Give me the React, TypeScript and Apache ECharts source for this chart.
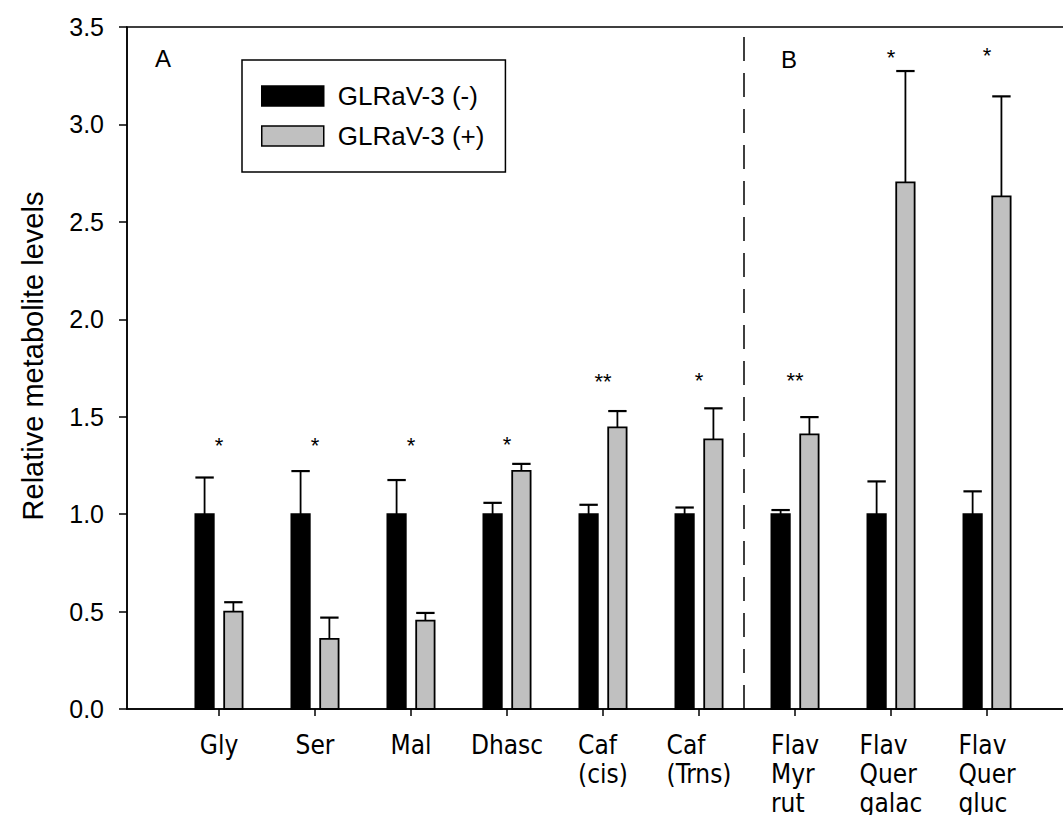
import React, { useEffect, useRef } from 'react';
import * as echarts from 'echarts';

// ---- data ----
const categories: string[] = [
  'Gly',
  'Ser',
  'Mal',
  'Dhasc',
  'Caf\n(cis)',
  'Caf\n(Trns)',
  'Flav\nMyr\nrut',
  'Flav\nQuer\ngalac',
  'Flav\nQuer\ngluc',
];
const seriesNames: string[] = ['GLRaV-3 (-)', 'GLRaV-3 (+)'];
const negMean: number[] = [1, 1, 1, 1, 1, 1, 1, 1, 1];
const negErr: number[] = [0.188, 0.221, 0.175, 0.058, 0.048, 0.034, 0.021, 0.168, 0.117];
const posMean: number[] = [0.5, 0.36, 0.454, 1.222, 1.445, 1.384, 1.409, 2.703, 2.631];
const posErr: number[] = [0.048, 0.109, 0.039, 0.036, 0.084, 0.159, 0.089, 0.571, 0.513];
const sigMarks: string[] = ['*', '*', '*', '*', '**', '*', '**', '*', '*'];
const sigY: number[] = [1.35, 1.35, 1.35, 1.355, 1.68, 1.685, 1.685, 3.345, 3.355];
const yTickMin = 0;
const yTickMax = 3.5;
const yTickStep = 0.5;
const groupDivider = 5.47;
const panelLabels: string[] = ['A', 'B'];

const FONT = '"Liberation Sans", Arial, Helvetica, sans-serif';
const NARROW = '"Liberation Sans Narrow", "Arial Narrow", "DejaVu Sans Condensed", "Liberation Sans", Arial, sans-serif';

const makeBarSeries = (name: string, means: number[], errs: number[], fill: string, side: number) => ({
  type: 'custom',
  name,
  dimensions: ['x', 'y', 'err'],
  encode: { x: 0, y: 1 },
  data: means.map((m, i) => [i, m, errs[i]]),
  itemStyle: { color: fill, borderColor: '#000', borderWidth: 1.5 },
  renderItem: (_params: any, api: any) => {
    const i = api.value(0);
    const m = api.value(1);
    const e = api.value(2);
    const base = api.coord([i, 0]);
    const top = api.coord([i, m]);
    const errTop = api.coord([i, m + e]);
    const cx = base[0] + side * 14.4;
    const hw = 9.2;
    return {
      type: 'group',
      children: [
        {
          type: 'line',
          shape: { x1: cx, y1: top[1], x2: cx, y2: errTop[1] },
          style: { stroke: '#000', lineWidth: 1.8 },
        },
        {
          type: 'line',
          shape: { x1: cx - hw, y1: errTop[1], x2: cx + hw, y2: errTop[1] },
          style: { stroke: '#000', lineWidth: 2.2 },
        },
        {
          type: 'rect',
          shape: { x: cx - hw, y: top[1], width: hw * 2, height: base[1] - top[1] },
          style: { fill, stroke: '#000', lineWidth: 1.8 },
        },
      ],
    };
  },
});

export default function App() {
  const ref = useRef<HTMLDivElement>(null);

  useEffect(() => {
    if (!ref.current) return;
    const chart = echarts.init(ref.current, undefined, { renderer: 'svg' });
    const idx = categories.map((_, i) => i);

    const option: any = {
      animation: false,
      backgroundColor: '#fff',
      grid: {
        left: 127,
        top: 27,
        right: 21,
        bottom: 106,
        containLabel: false,
        outerBoundsMode: 'none',
        show: true,
        borderColor: '#000',
        borderWidth: 1.5,
        backgroundColor: 'transparent',
      },
      legend: {
        orient: 'vertical',
        left: 242,
        top: 60,
        padding: [23, 21, 23, 19],
        itemWidth: 62,
        itemHeight: 20,
        itemGap: 14,
        borderColor: '#000',
        borderWidth: 1.5,
        selectedMode: false,
        textStyle: { fontSize: 26, color: '#000', fontFamily: FONT, padding: [0, 0, 0, 9], lineHeight: 20 },
        data: [
          { name: seriesNames[0], icon: 'rect', itemStyle: { color: '#000', borderColor: '#000', borderWidth: 1.5 } },
          { name: seriesNames[1], icon: 'rect', itemStyle: { color: '#c0c0c0', borderColor: '#000', borderWidth: 1.5 } },
        ],
      },
      xAxis: {
        type: 'value',
        min: -0.958,
        max: 8.958,
        splitLine: { show: false },
        axisLine: { show: true, onZero: false, lineStyle: { color: '#000', width: 1.5 } },
        axisTick: { show: true, customValues: idx, length: 7, lineStyle: { color: '#000', width: 1.5 } },
        axisLabel: {
          customValues: idx,
          margin: 21,
          formatter: (v: number) =>
            categories[Math.round(v)]
              .split('\n')
              .map((s) => `{l|${s}}`)
              .join('\n'),
          rich: {
            l: { fontSize: 26, fontFamily: NARROW, color: '#000', lineHeight: 29, align: 'left' },
          },
        },
      },
      yAxis: {
        type: 'value',
        min: yTickMin,
        max: yTickMax,
        interval: yTickStep,
        name: 'Relative metabolite levels',
        nameLocation: 'middle',
        nameGap: 80,
        nameTextStyle: { fontSize: 29, fontFamily: FONT, color: '#000', padding: [0, 0, 0, 24] },
        splitLine: { show: false },
        axisLine: { show: true, onZero: false, lineStyle: { color: '#000', width: 1.5 } },
        axisTick: { show: true, length: 8, lineStyle: { color: '#000', width: 1.5 } },
        axisLabel: {
          formatter: (v: number) => v.toFixed(1),
          fontSize: 25,
          fontFamily: FONT,
          color: '#000',
          margin: 23,
        },
      },
      graphic: [
        { type: 'text', x: 163, y: 58, style: { text: panelLabels[0], fontSize: 24, fontFamily: FONT, fill: '#000', align: 'center', verticalAlign: 'middle' } },
        { type: 'text', x: 789, y: 59, style: { text: panelLabels[1], fontSize: 24, fontFamily: FONT, fill: '#000', align: 'center', verticalAlign: 'middle' } },
      ],
      series: [
        makeBarSeries(seriesNames[0], negMean, negErr, '#000', -1),
        {
          ...makeBarSeries(seriesNames[1], posMean, posErr, '#c0c0c0', 1),
          markLine: {
            silent: true,
            symbol: 'none',
            label: { show: false },
            lineStyle: { color: '#000', width: 1.5, type: [24, 12] },
            data: [{ xAxis: groupDivider }],
          },
        },
        {
          type: 'custom',
          name: 'sig',
          data: sigMarks.map((s, i) => [i, sigY[i], s]),
          dimensions: ['x', 'y', 'mark'],
          encode: { x: 0, y: 1 },
          renderItem: (_params: any, api: any) => {
            const i = api.value(0);
            const pt = api.coord([i, api.value(1)]);
            return {
              type: 'text',
              x: pt[0],
              y: pt[1],
              style: {
                text: sigMarks[i],
                fontSize: 22,
                fontFamily: FONT,
                fill: '#000',
                align: 'center',
                verticalAlign: 'middle',
              },
            };
          },
        },
      ],
    };

    chart.setOption(option);
    return () => chart.dispose();
  }, []);

  return (
    <div style={{ position: 'fixed', left: 0, top: 0, width: 1063, height: 815, overflow: 'hidden', background: '#fff' }}>
      <div ref={ref} style={{ width: 1100, height: 815 }} />
    </div>
  );
}
